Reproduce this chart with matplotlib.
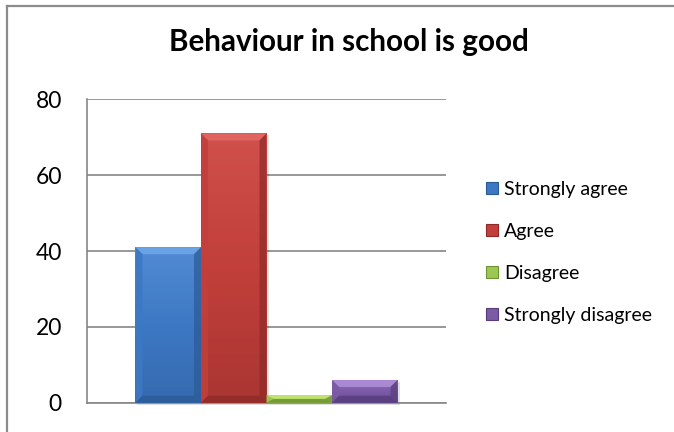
import matplotlib
matplotlib.use("Agg")
import matplotlib.pyplot as plt
from matplotlib.patches import Polygon, Rectangle
from matplotlib.lines import Line2D
from matplotlib.colors import LinearSegmentedColormap
import numpy as np

title = "Behaviour in school is good"
categories = ["Strongly agree", "Agree", "Disagree", "Strongly disagree"]
values = [41, 71, 2, 6]
colors = ["#3d78c4", "#c23f3b", "#9bc84f", "#7b5aa6"]
light = ["#6aa2e6", "#e06460", "#c0e46e", "#a98ad2"]
dark = ["#2c5a96", "#8e2b28", "#6f9234", "#573d7c"]
yticks = [0, 20, 40, 60, 80]

plt.rcParams['font.family'] = ['Lato', 'DejaVu Sans']

W, H = 674, 432
fig = plt.figure(figsize=(W / 100, H / 100), dpi=100)
fig.patch.set_facecolor("white")

# outer chart border (top and left visible)
fig.add_artist(Line2D([6.5 / W, 6.5 / W], [0, 1 - 6 / H], transform=fig.transFigure, color="#8c8c8c", lw=1.6))
fig.add_artist(Line2D([6.5 / W, 1], [1 - 6 / H, 1 - 6 / H], transform=fig.transFigure, color="#8c8c8c", lw=1.6))

ax_l, ax_r, ax_b, ax_t = 87, 446, 432 - 402.7, 432 - 99.3
ax = fig.add_axes([ax_l / W, ax_b / H, (ax_r - ax_l) / W, (ax_t - ax_b) / H])
ax.set_xlim(-0.5, 0.5)
ax.set_ylim(0, 80)
ax.set_yticks(yticks)
ax.set_xticks([])
ax.tick_params(axis="y", length=0, pad=18, labelsize=16.5)
ax.grid(axis="y", color="#868686", lw=1.2, zorder=0)
ax.set_axisbelow(True)
for s in ["top", "right"]:
    ax.spines[s].set_visible(False)
for s in ["left", "bottom"]:
    ax.spines[s].set_color("#868686")
    ax.spines[s].set_linewidth(1.2)

bw = 0.1825
offsets = (np.arange(len(values)) - 1.5) * bw
bars = ax.bar(offsets, values, width=bw, color=colors, zorder=3, linewidth=0)

px_x = 1.0 / (ax_r - ax_l)
px_y = 80.0 / (ax_t - ax_b)
for b, c, lc, dc in zip(bars, colors, light, dark):
    x0, w, h = b.get_x(), b.get_width(), b.get_height()
    x1 = x0 + w
    bx = 7 * px_x
    by = min(7 * px_y, h / 2)
    # shadow
    ax.add_patch(Rectangle((x0 + 2 * px_x, -2 * px_y), w, h, color="#000000", alpha=0.12, zorder=2, lw=0, clip_on=False))
    # vertical gradient face
    grad = np.linspace(0, 1, 50).reshape(-1, 1)
    cmap = LinearSegmentedColormap.from_list("g", [dc, c, lc])
    ax.imshow(grad, extent=(x0, x1, 0, h), origin="lower", aspect="auto", cmap=cmap, vmin=-0.6, vmax=1.6, zorder=3)
    # bevel: top lighter
    ax.add_patch(Polygon([(x0, h), (x1, h), (x1 - bx, h - by), (x0 + bx, h - by)], closed=True, color=lc, lw=0, zorder=4))
    # left edge
    ax.add_patch(Polygon([(x0, h), (x0 + bx, h - by), (x0 + bx, by), (x0, 0)], closed=True, color=c, alpha=0.9, lw=0, zorder=4))
    # right edge darker
    ax.add_patch(Polygon([(x1, h), (x1 - bx, h - by), (x1 - bx, by), (x1, 0)], closed=True, color=dc, alpha=0.7, lw=0, zorder=4))
    # bottom darker
    ax.add_patch(Polygon([(x0, 0), (x1, 0), (x1 - bx, by), (x0 + bx, by)], closed=True, color=dc, alpha=0.8, lw=0, zorder=4))

ax.set_xlim(-0.5, 0.5)
ax.set_ylim(0, 80)

fig.text(349 / W, 1 - 42 / H, title, ha="center", va="center", fontsize=21.3, fontweight="bold")

# legend
handles = [Rectangle((0, 0), 1, 1, facecolor=c, edgecolor=dc, lw=0.8) for c, dc in zip(colors, dark)]
fig.legend(handles, categories, loc="upper left", bbox_to_anchor=(486 / W, 1 - 181 / H),
           frameon=False, fontsize=14, handlelength=0.62, handleheight=0.62,
           handletextpad=0.3, labelspacing=1.28, borderpad=0, borderaxespad=0)

fig.savefig("out.png", dpi=100)
